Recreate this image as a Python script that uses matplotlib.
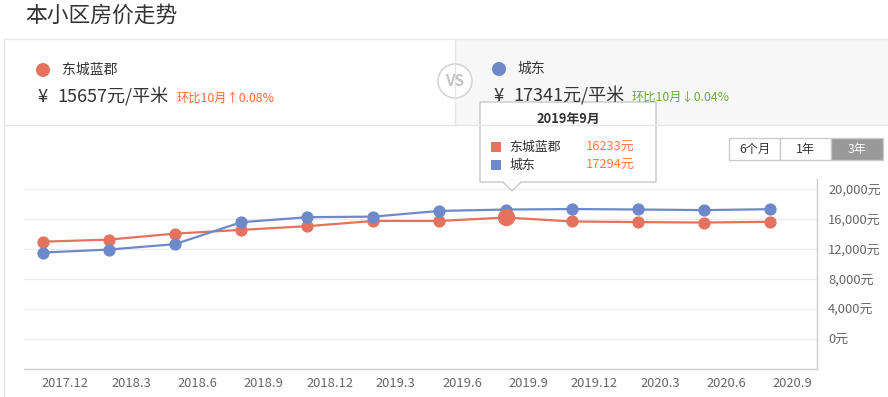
import matplotlib
matplotlib.use("Agg")
import matplotlib.pyplot as plt
from matplotlib.patches import Rectangle, Circle, Polygon

plt.rcParams['font.family'] = ['Noto Sans CJK SC', 'DejaVu Sans']

# ---- data ----
tick_labels = ['2017.12', '2018.3', '2018.6', '2018.9', '2018.12', '2019.3',
               '2019.6', '2019.9', '2019.12', '2020.3', '2020.6', '2020.9']
name_a = '东城蓝郡'
name_b = '城东'
series_a = [13000, 13280, 14080, 14580, 15070, 15770, 15770, 16233, 15700, 15620, 15560, 15657]
series_b = [11550, 11950, 12670, 15600, 16270, 16350, 17110, 17294, 17360, 17300, 17220, 17341]
y_ticks = [0, 4000, 8000, 12000, 16000, 20000]
highlight = 7
tooltip_title = '2019年9月'
price_a = '15657'
price_b = '17341'
change_a = '环比10月↑0.08%'
change_b = '环比10月↓0.04%'
range_buttons = ['6个月', '1年', '3年']

RED = '#e5725f'
BLUE = '#6d89c9'

W, H = 888, 397
fig = plt.figure(figsize=(W / 100, H / 100), dpi=100)

# ---- chart axes ----
L, R, T, B = 24, 817, 179, 369
ax = fig.add_axes([L / W, 1 - B / H, (R - L) / W, (B - T) / H])
ax.set_zorder(1)
x = list(range(len(series_a)))
ax.set_xlim(-0.283, 11.71)
ax.set_ylim(-4000, 21373)
for v in y_ticks:
    ax.axhline(v, color='#ececec', lw=1, zorder=0)
ax.plot(x, series_a, color=RED, lw=1.6, marker='o', ms=7.8, zorder=3)
ax.plot(x, series_b, color=BLUE, lw=1.6, marker='o', ms=7.8, zorder=3)
ax.plot([x[highlight]], [series_a[highlight]], 'o', color=RED, ms=11.5, zorder=5)
for s in ['top', 'left']:
    ax.spines[s].set_visible(False)
for s in ['bottom', 'right']:
    ax.spines[s].set_color('#cccccc')
    ax.spines[s].set_linewidth(1)
ax.yaxis.tick_right()
ax.set_yticks(y_ticks)
ax.set_yticklabels([f'{v:,}元' for v in y_ticks], fontsize=9.3, color='#666666')
ax.tick_params(axis='y', length=0, pad=8)
ax.set_xticks([i + 0.34 for i in x])
ax.set_xticklabels(tick_labels, fontsize=9.3, color='#666666')
ax.tick_params(axis='x', length=0, pad=6)
for lab in ax.get_yticklabels():
    lab.set_horizontalalignment('left')

# ---- overlay in pixel coordinates ----
ov = fig.add_axes([0, 0, 1, 1])
ov.set_zorder(2)
ov.set_xlim(0, W)
ov.set_ylim(H, 0)
ov.axis('off')
ov.patch.set_alpha(0)

ov.text(25, 16, '本小区房价走势', fontsize=15.7, color='#333333', va='center', ha='left')

# panel borders
ov.add_patch(Rectangle((455, 39), 440, 86, facecolor='#f7f7f7', edgecolor='none'))
ov.plot([4, W], [39, 39], color='#e6e6e6', lw=1)
ov.plot([4, W], [125, 125], color='#e6e6e6', lw=1)
ov.plot([4, 4], [39, H], color='#e6e6e6', lw=1)
ov.plot([455, 455], [39, 125], color='#e6e6e6', lw=1)

# VS circle
ov.add_patch(Circle((455, 81), 17, facecolor='white', edgecolor='#d5d5d5', lw=1.2))
ov.text(455, 81, 'VS', fontsize=11, fontweight='bold', color='#c4c4c4', ha='center', va='center')

# left info
ov.add_patch(Circle((43, 70), 7, facecolor=RED, edgecolor='none'))
ov.text(62, 70, name_a, fontsize=10, color='#333333', va='center', ha='left')
ov.text(37, 97, '¥', fontsize=13, color='#333333', va='center', ha='left')
ov.text(57, 97, f'{price_a}元/平米', fontsize=13, color='#333333', va='center', ha='left')
ov.text(177, 98, change_a, fontsize=8.8, color='#ff6a3d', va='center', ha='left')

# right info
ov.add_patch(Circle((499, 69), 7, facecolor=BLUE, edgecolor='none'))
ov.text(517, 69, name_b, fontsize=10, color='#333333', va='center', ha='left')
ov.text(493, 96, '¥', fontsize=13, color='#333333', va='center', ha='left')
ov.text(513, 96, f'{price_b}元/平米', fontsize=13, color='#333333', va='center', ha='left')
ov.text(632, 97, change_b, fontsize=8.8, color='#6aaa3a', va='center', ha='left')

# range buttons
bx = [729, 780, 831, 883]
for i, lab in enumerate(range_buttons):
    sel = i == len(range_buttons) - 1
    ov.add_patch(Rectangle((bx[i], 138), bx[i + 1] - bx[i], 22,
                           facecolor='#999999' if sel else 'white',
                           edgecolor='#cccccc', lw=1))
    ov.text((bx[i] + bx[i + 1]) / 2, 149, lab, fontsize=8.8,
            color='white' if sel else '#333333', ha='center', va='center')

# tooltip
tl, tr, tt, tb = 480, 656, 102, 182
px = 512
ov.add_patch(Polygon([(tl, tt), (tr, tt), (tr, tb), (px + 9, tb), (px, tb + 9),
                      (px - 9, tb), (tl, tb)], closed=True,
                     facecolor='white', edgecolor='#c8c8c8', lw=1))
ov.text((tl + tr) / 2, 120, tooltip_title, fontsize=9.3, fontweight='bold',
        color='#333333', ha='center', va='center')
for j, (nm, val, col) in enumerate([(name_a, series_a[highlight], RED),
                                    (name_b, series_b[highlight], BLUE)]):
    yy = 147 + j * 18
    ov.add_patch(Rectangle((491, yy - 5), 10, 10, facecolor=col, edgecolor='none'))
    ov.text(509, yy, nm, fontsize=9.3, color='#333333', ha='left', va='center')
    ov.text(586, yy, f'{val}元', fontsize=9.3, color='#ff7a45', ha='left', va='center')

fig.savefig('out.png', dpi=100)
